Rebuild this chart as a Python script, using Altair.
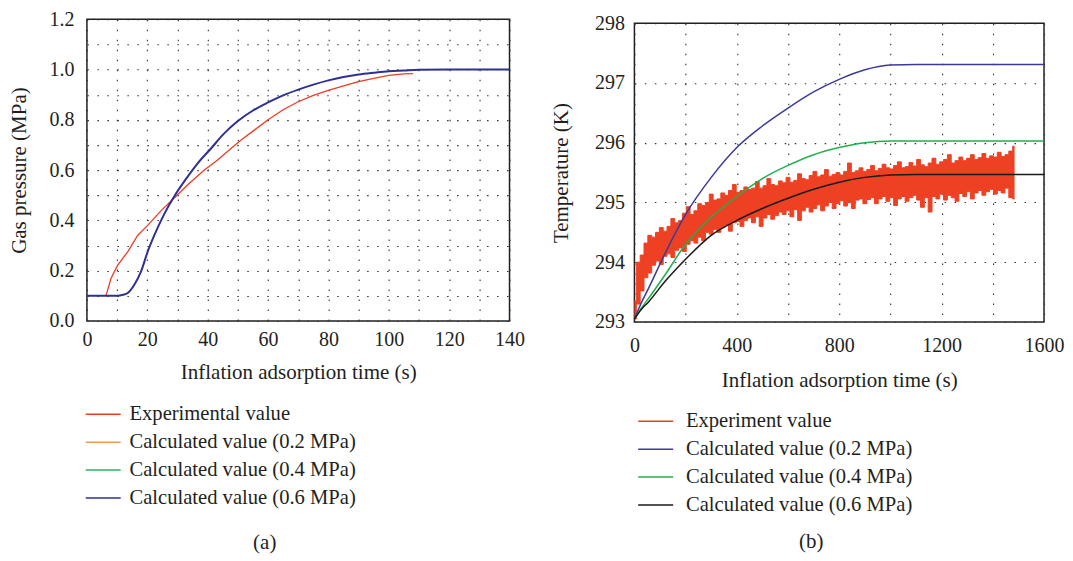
import altair as alt
import pandas as pd

FONT = "Liberation Serif"
TXT = "#231f20"

# ---------------- panel (a): gas pressure ----------------
a_series = ["Experimental value", "Calculated value (0.2 MPa)",
            "Calculated value (0.4 MPa)", "Calculated value (0.6 MPa)"]
a_colors = ["#ee3b24", "#f39a5b", "#2fb45a", "#2e3192"]

a_calc_t = [0, 5, 10, 12, 13.5, 15.7, 17.9, 20.1, 22.3, 25.6, 29, 32.3, 36.7, 41.1, 45,
            50, 55, 60, 65, 70, 75, 80, 85, 90, 95, 100, 105, 110, 120, 140]
a_calc_p = [0.1, 0.1, 0.1, 0.104, 0.111, 0.144, 0.196, 0.275, 0.34, 0.425, 0.497, 0.556,
            0.627, 0.686, 0.74, 0.795, 0.837, 0.869, 0.897, 0.92, 0.94, 0.957, 0.97, 0.98,
            0.987, 0.993, 0.996, 0.999, 1.0, 1.0]

a_exp_t = [6.3, 8, 10.2, 13.5, 16.8, 20.1, 24.5, 29, 33.4, 38.9, 43.3, 47.7, 51.6, 55, 60,
           65, 70, 75, 80, 85, 90, 95, 100, 105, 108]
a_exp_p = [0.1, 0.17, 0.222, 0.275, 0.34, 0.38, 0.438, 0.49, 0.542, 0.60, 0.64, 0.686,
           0.725, 0.755, 0.80, 0.84, 0.872, 0.897, 0.917, 0.935, 0.952, 0.965, 0.977,
           0.983, 0.984]

a_x_ticks = [0, 10, 20, 30, 40, 50, 60, 70, 80, 90, 100, 110, 120, 130, 140]
a_y_ticks = [0.0, 0.1, 0.2, 0.3, 0.4, 0.5, 0.6, 0.7, 0.8, 0.9, 1.0, 1.1, 1.2]

# ---------------- panel (b): temperature ----------------
b_series = ["Experiment value", "Calculated value (0.2 MPa)",
            "Calculated value (0.4 MPa)", "Calculated value (0.6 MPa)"]
b_colors = ["#ee4124", "#3b3a9c", "#1fb04c", "#1a1a1a"]

b_calc_t = [0, 25, 56, 120, 200, 300, 400, 500, 600, 700, 800, 900, 1000, 1100, 1600]
b_calc_02 = [293.05, 293.3, 293.57, 294.15, 294.8, 295.42, 295.92, 296.28, 296.58, 296.85,
             297.06, 297.22, 297.3, 297.31, 297.31]
b_calc_04 = [293.05, 293.22, 293.4, 293.79, 294.3, 294.75, 295.1, 295.4, 295.62, 295.8,
             295.92, 296.0, 296.03, 296.03, 296.03]
b_calc_06 = [293.05, 293.2, 293.34, 293.68, 294.05, 294.45, 294.7, 294.9, 295.07, 295.22,
             295.34, 295.42, 295.46, 295.47, 295.47]

b_exp_t = list(range(0, 1486, 15))
b_exp_hi = [
    293.35, 294.0, 294.12, 294.32, 294.45, 294.42, 294.5, 294.58, 294.52, 294.6,
    294.73, 294.66, 294.7, 294.82, 294.93, 294.8, 294.86, 294.98, 294.95, 295.0,
    295.14, 295.04, 295.06, 295.16, 295.12, 295.2, 295.3, 295.17, 295.2, 295.26,
    295.22, 295.24, 295.35, 295.24, 295.28, 295.4, 295.3, 295.28, 295.36, 295.33,
    295.42, 295.34, 295.37, 295.48, 295.4, 295.38, 295.45, 295.52, 295.43, 295.46,
    295.55, 295.44, 295.47, 295.5, 295.46, 295.52, 295.66, 295.5, 295.53, 295.58,
    295.52, 295.55, 295.62, 295.53, 295.57, 295.64, 295.58, 295.56, 295.62, 295.68,
    295.58, 295.6, 295.67, 295.61, 295.72, 295.63, 295.6, 295.66, 295.74, 295.64,
    295.68, 295.72, 295.8, 295.66, 295.7, 295.76, 295.7, 295.74, 295.8, 295.72,
    295.75, 295.82, 295.74, 295.78, 295.76, 295.84, 295.77, 295.8, 295.86, 295.94]
b_exp_lo = [
    293.05, 293.3, 293.52, 293.74, 293.82, 293.95, 294.02, 293.96, 294.1, 294.14,
    294.08, 294.2, 294.24, 294.18, 294.3, 294.36, 294.32, 294.42, 294.36, 294.5,
    294.47, 294.55, 294.5, 294.58, 294.62, 294.52, 294.66, 294.68, 294.6, 294.7,
    294.74, 294.66, 294.76, 294.6, 294.74, 294.8, 294.72, 294.78, 294.84, 294.8,
    294.86, 294.76, 294.88, 294.7, 294.86, 294.92, 294.84, 294.9, 294.96, 294.86,
    294.94, 295.0, 294.9, 294.98, 295.03, 294.94, 295.0, 294.9, 295.04, 295.06,
    294.98, 295.05, 295.08, 294.98, 295.06, 295.1, 295.02, 295.08, 294.95, 295.06,
    295.1, 295.02, 295.08, 295.12, 295.04, 294.92, 295.08, 294.84, 295.1, 295.06,
    295.14, 295.04, 295.12, 295.08, 295.02, 295.15, 295.1, 295.18, 295.06, 295.16,
    295.2, 295.12, 295.18, 295.22, 295.14, 295.2, 295.16, 295.24, 295.08, 295.06]

b_x_ticks = [0, 200, 400, 600, 800, 1000, 1200, 1400, 1600]
b_y_ticks = [293.0, 293.5, 294.0, 294.5, 295.0, 295.5, 296.0, 296.5, 297.0, 297.5, 298.0]


def axis(title, values, label_expr, lp, tp, fmt):
    return alt.Axis(title=title, values=values, labelExpr=label_expr, format=fmt,
                    grid=True, gridDash=[1.5, 8.5], gridColor="#333333", gridWidth=1.1,
                    domain=False, ticks=False, labelFont=FONT, labelFontSize=20,
                    labelColor=TXT, titleFont=FONT, titleFontSize=21,
                    titleFontWeight="normal", titleColor=TXT, labelPadding=lp,
                    titlePadding=tp, labelFlush=False, labelOverlap=False)


def legend(x, y, off):
    return alt.Legend(title=None, orient="none", legendX=x, legendY=y,
                      direction="vertical", symbolType="M-2.5,0H2.5", symbolSize=196,
                      symbolStrokeWidth=1.5, labelFont=FONT, labelFontSize=20.6,
                      labelColor=TXT, labelOffset=off, rowPadding=7, padding=0,
                      labelLimit=500)


# ---- panel (a)
df_a_exp = pd.DataFrame({"t": a_exp_t, "v": a_exp_p, "s": a_series[0]})
df_a_calc = pd.DataFrame({"t": a_calc_t, "v": a_calc_p, "s": a_series[3]})

xa = alt.X("t:Q", scale=alt.Scale(domain=[0, 140], nice=False),
           axis=axis("Inflation adsorption time (s)", a_x_ticks,
                     "datum.value % 20 === 0 ? datum.label : ''", 9, 12, "d"))
ya = alt.Y("v:Q", scale=alt.Scale(domain=[0, 1.2], nice=False),
           axis=axis("Gas pressure (MPa)", a_y_ticks,
                     "round(datum.value * 10) % 2 === 0 ? datum.label : ''", 13, 19, ".1f"))
ca = alt.Color("s:N", scale=alt.Scale(domain=a_series, range=a_colors),
               legend=legend(6, 385, 16))

a_exp = alt.Chart(df_a_exp).mark_line(strokeWidth=1.3).encode(x=xa, y=ya, color=ca)
a_calc = alt.Chart(df_a_calc).mark_line(strokeWidth=2, interpolate="monotone").encode(
    x=xa, y=ya, color=ca)
a_lab = alt.Chart(pd.DataFrame({"txt": ["(a)"]})).mark_text(
    font=FONT, fontSize=21, color=TXT).encode(text="txt:N", x=alt.value(178), y=alt.value(524))
panel_a = alt.layer(a_exp, a_calc, a_lab).properties(width=423, height=302)

# ---- panel (b)
df_b_band = pd.DataFrame({"t": b_exp_t, "lo": b_exp_lo, "hi": b_exp_hi})
df_b_edges = pd.concat([
    pd.DataFrame({"t": b_exp_t, "v": b_exp_hi, "s": b_series[0], "e": "hi"}),
    pd.DataFrame({"t": b_exp_t, "v": b_exp_lo, "s": b_series[0], "e": "lo"}),
])
df_b_calc = pd.concat([
    pd.DataFrame({"t": b_calc_t, "v": b_calc_02, "s": b_series[1]}),
    pd.DataFrame({"t": b_calc_t, "v": b_calc_04, "s": b_series[2]}),
    pd.DataFrame({"t": b_calc_t, "v": b_calc_06, "s": b_series[3]}),
])

xb = alt.X("t:Q", scale=alt.Scale(domain=[0, 1600], nice=False),
           axis=axis("Inflation adsorption time (s)", b_x_ticks,
                     "datum.value % 400 === 0 ? datum.label : ''", 14, 14, "d"))
yb_scale = alt.Scale(domain=[293, 298], nice=False, zero=False)
yb_axis = axis("Temperature (K)", b_y_ticks,
               "datum.value % 1 === 0 ? datum.label : ''", 10, 23, "d")
cb = alt.Color("s:N", scale=alt.Scale(domain=b_series, range=b_colors),
               legend=legend(11, 392, 20))

b_band = alt.Chart(df_b_band).mark_area(color=b_colors[0], opacity=1,
                                        interpolate="step").encode(
    x=xb, y=alt.Y("lo:Q", scale=yb_scale, axis=yb_axis), y2="hi:Q")
b_edges = alt.Chart(df_b_edges).mark_line(strokeWidth=1, interpolate="step").encode(
    x=xb, y=alt.Y("v:Q", scale=yb_scale, axis=yb_axis), color=cb, detail="e:N")
b_calc = alt.Chart(df_b_calc).mark_line(strokeWidth=1.5, interpolate="monotone").encode(
    x=xb, y=alt.Y("v:Q", scale=yb_scale, axis=yb_axis), color=cb)
b_lab = alt.Chart(pd.DataFrame({"txt": ["(b)"]})).mark_text(
    font=FONT, fontSize=21, color=TXT).encode(text="txt:N", x=alt.value(177), y=alt.value(519))
panel_b = alt.layer(b_band, b_edges, b_calc, b_lab).properties(width=410, height=299)

spacer = alt.Chart(pd.DataFrame({"z": [0]})).mark_point(opacity=0).encode(
    x=alt.value(0), y=alt.value(0)).properties(
    width=410, height=1, view=alt.ViewBackground(stroke="transparent"))

b_col = alt.vconcat(spacer, panel_b, spacing=3, bounds="flush")

chart = alt.hconcat(panel_a, b_col, spacing=24).resolve_scale(
    color="independent").resolve_legend(color="independent").properties(
    padding={"left": 0, "top": 0, "right": 0, "bottom": 0}).configure(
    font=FONT).configure_view(stroke=TXT, strokeWidth=1.5)

chart.save("out.html", embed_options={"renderer": "svg", "actions": False})
